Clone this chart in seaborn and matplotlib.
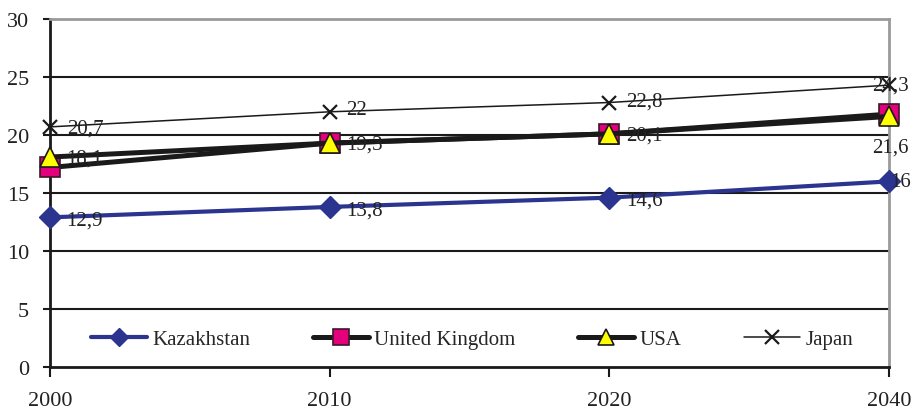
import matplotlib
matplotlib.use("Agg")
import matplotlib.pyplot as plt
import seaborn as sns
import pandas as pd

years = ["2000", "2010", "2020", "2040"]
kazakhstan = [12.9, 13.8, 14.6, 16.0]
united_kingdom = [17.2, 19.3, 20.1, 21.8]
usa = [18.1, 19.3, 20.1, 21.6]
japan = [20.7, 22.0, 22.8, 24.3]

kaz_labels = ["12,9", "13,8", "14,6", "16"]
usa_labels = ["18,1", "19,3", "20,1", "21,6"]
japan_labels = ["20,7", "22", "22,8", "24,3"]

sns.set_theme(style="white")
plt.rcParams["font.family"] = ["Liberation Serif", "DejaVu Serif"]

frames = []
for name, vals in [("Kazakhstan", kazakhstan), ("United Kingdom", united_kingdom),
                   ("USA", usa), ("Japan", japan)]:
    frames.append(pd.DataFrame({"year": years, "value": vals, "country": name}))
df = pd.concat(frames, ignore_index=True)

styles = {
    "Kazakhstan": dict(color="#2B3590", marker="D", markersize=11, lw=3.0,
                       markerfacecolor="#2B3590", markeredgecolor="#2B3590",
                       markeredgewidth=1.0),
    "United Kingdom": dict(color="#1a1a1a", marker="s", markersize=14, lw=3.6,
                           markerfacecolor="#E4007C", markeredgecolor="#3a1a2a",
                           markeredgewidth=1.2),
    "USA": dict(color="#1a1a1a", marker="^", markersize=15, lw=3.6,
                markerfacecolor="#FFFF00", markeredgecolor="#1a1a1a",
                markeredgewidth=1.2),
    "Japan": dict(color="#1a1a1a", marker="x", markersize=10, lw=1.1,
                  markeredgecolor="#1a1a1a", markeredgewidth=1.6),
}

fig = plt.figure(figsize=(9.14, 4.10), dpi=100)
ax = fig.add_axes([50 / 914, 42 / 410, 839 / 914, 348 / 410])

for name in ["Kazakhstan", "United Kingdom", "USA", "Japan"]:
    sub = df[df["country"] == name]
    sns.lineplot(data=sub, x="year", y="value", ax=ax, label=name,
                 sort=False, clip_on=False, zorder=3, **styles[name])

ax.set_xlim(0, 3)
ax.set_ylim(0, 30)
ax.set_yticks(range(0, 31, 5))
ax.set_xticks(range(len(years)))
ax.set_xticklabels(years)
ax.set_xlabel("")
ax.set_ylabel("")

for y in range(5, 30, 5):
    ax.axhline(y, color="#1a1a1a", lw=1.5, zorder=0.5)

for side in ["left", "bottom"]:
    ax.spines[side].set_color("#1a1a1a")
    ax.spines[side].set_linewidth(2.0)
for side in ["top", "right"]:
    ax.spines[side].set_color("#9a9a9a")
    ax.spines[side].set_linewidth(2.0)

ax.tick_params(axis="y", which="major", left=True, length=5, width=1.5,
               color="#1a1a1a", pad=10, labelsize=16, labelcolor="#222222")
ax.tick_params(axis="x", which="major", bottom=True, length=7, width=1.5,
               color="#1a1a1a", pad=10, labelsize=16, labelcolor="#222222")

label_kw = dict(textcoords="offset points", fontsize=15, color="#222222",
                va="center", ha="left", annotation_clip=False, zorder=4)

kaz_offsets = [(12, -2), (12, -2), (12, -2), (1, 0)]
usa_offsets = [(12, -1), (12, -1), (12, -1), (-12, -22)]
japan_offsets = [(12, -1), (12, 2), (12, 1), (-12, 0)]

for i in range(len(years)):
    ax.annotate(kaz_labels[i], (i, kazakhstan[i]), xytext=kaz_offsets[i], **label_kw)
    ax.annotate(usa_labels[i], (i, usa[i]), xytext=usa_offsets[i], **label_kw)
    ax.annotate(japan_labels[i], (i, japan[i]), xytext=japan_offsets[i], **label_kw)

leg = ax.legend(loc="center", bbox_to_anchor=(0.503, 0.08), ncol=4,
                frameon=False, fontsize=15, handlelength=2.7,
                handletextpad=0.25, columnspacing=3.0)
for h in leg.get_lines():
    if h.get_marker() in ("s", "^"):
        h.set_markersize(11)
    elif h.get_marker() == "D":
        h.set_markersize(9)
    else:
        h.set_markersize(10)

fig.savefig("out.png", dpi=100)
